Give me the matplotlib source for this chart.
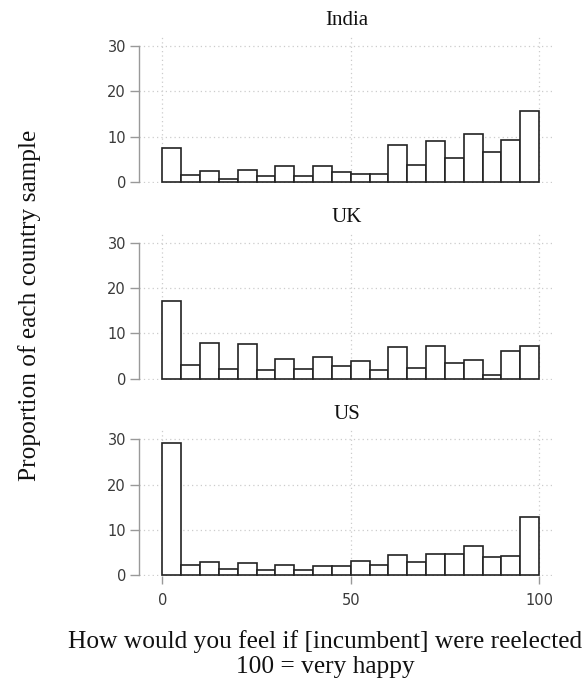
import numpy as np
import matplotlib
matplotlib.use("Agg")
import matplotlib.pyplot as plt

countries = ["India", "UK", "US"]
bin_edges = list(range(0, 100, 5))
india = [7.5, 1.6, 2.4, 0.6, 2.7, 1.3, 3.5, 1.2, 3.4, 2.1, 1.8, 1.8, 8.1, 3.6, 9.0, 5.2, 10.6, 6.5, 9.3, 15.6]
uk = [17.1, 3.0, 7.8, 2.1, 7.6, 2.0, 4.4, 2.1, 4.7, 2.8, 3.9, 2.0, 7.0, 2.4, 7.2, 3.4, 4.1, 0.8, 6.1, 7.2]
us = [29.3, 2.3, 2.8, 1.3, 2.6, 1.0, 2.1, 1.0, 1.9, 1.9, 3.0, 2.3, 4.4, 2.8, 4.7, 4.7, 6.4, 3.9, 4.1, 12.9]
series = [india, uk, us]
yticks = [0, 10, 20, 30]
xticks = [0, 50, 100]

W, H = 587, 686
fig = plt.figure(figsize=(W / 100, H / 100), dpi=100)
fig.patch.set_facecolor("white")

serif = ["Liberation Serif", "DejaVu Serif"]
left = 139.3 / W
width = (555 - 139.3) / W
bottoms_px = [183.1, 380.05, 576.35]
height = 146.5 / H

for i, (name, vals) in enumerate(zip(countries, series)):
    ax = fig.add_axes([left, 1 - bottoms_px[i] / H, width, height])
    ax.bar(bin_edges, vals, width=5, align="edge", facecolor="white",
           edgecolor="#222222", linewidth=1.2, zorder=3)
    ax.set_xlim(-6.1, 104.2)
    ax.set_ylim(-0.3, 32.1)
    ax.set_yticks(yticks)
    ax.set_xticks(xticks)
    ax.grid(True, linestyle=(0, (1, 2.5)), color="#cccccc", linewidth=0.9, zorder=0)
    for s in ["top", "right", "bottom"]:
        ax.spines[s].set_visible(False)
    ax.spines["left"].set_bounds(0, 30)
    ax.spines["left"].set_color("#999999")
    ax.spines["left"].set_linewidth(1.0)
    ax.tick_params(axis="y", length=6.5, width=1.0, color="#999999",
                   labelsize=10.5, labelcolor="#3a3a3a", pad=3)
    if i < 2:
        ax.tick_params(axis="x", length=0, labelbottom=False)
    else:
        ax.tick_params(axis="x", length=5.8, width=1.0, color="#999999",
                       labelsize=10.5, labelcolor="#3a3a3a", pad=6.5)
    ax.set_title(name, family=serif, fontsize=15, pad=8, color="#111111")

fig.text(30 / W, 1 - 305 / H, "Proportion of each country sample", rotation=90,
         ha="center", va="center", family=serif, fontsize=18.3, color="#111111")
fig.text(325 / W, 1 - 642 / H, "How would you feel if [incumbent] were reelected",
         ha="center", va="center", family=serif, fontsize=18.3, color="#111111")
fig.text(325 / W, 1 - 667 / H, "100 = very happy",
         ha="center", va="center", family=serif, fontsize=18.3, color="#111111")

fig.savefig("out.png", dpi=100, facecolor="white")
